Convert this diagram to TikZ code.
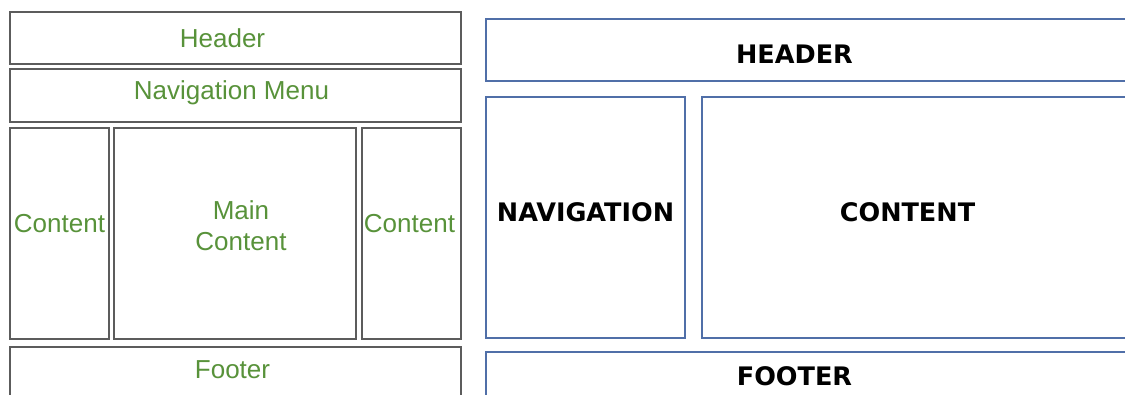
\documentclass[tikz,border=0pt]{standalone}
\usepackage{fontspec}
\setmainfont{Liberation Sans}
\newfontfamily\capsfont{DejaVu Sans}
\usepackage{tikz}
\usetikzlibrary{positioning}
\definecolor{leafgreen}{RGB}{88,146,58}
\definecolor{greyline}{RGB}{92,92,92}
\definecolor{blueline}{RGB}{80,111,168}
\tikzstyle{oldbox} = [rectangle, draw=greyline, line width=2.5pt, outer sep=0pt, inner sep=0pt, text=leafgreen, font=\fontsize{26}{31}\selectfont]
\tikzstyle{oldtag} = [text=leafgreen, font=\fontsize{26}{31}\selectfont, align=center]
\tikzstyle{newbox} = [rectangle, draw=blueline, line width=2.4pt, outer sep=0pt, inner sep=0pt, font=\capsfont\bfseries\fontsize{25.5}{30}\selectfont]
\tikzstyle{newtag} = [font=\capsfont\bfseries\fontsize{25.5}{30}\selectfont]

\begin{document}
\begin{tikzpicture}[x=1pt, y=-1pt]
      \useasboundingbox (0,0) rectangle (1125,394);
      \clip (0,0) rectangle (1125,394);
      % old layout
      \node (hdr) [oldbox, minimum width=451pt, minimum height=52pt, label={[oldtag, xshift=-13pt]center:Header}] at (235.5,38) {};
      \node (menu) [oldbox, minimum width=451pt, minimum height=53pt, below=5pt of hdr, label={[oldtag, xshift=-4pt, yshift=3pt]center:Navigation Menu}] {};
      \node (sideL) [oldbox, minimum width=99pt, minimum height=211pt, below=6pt of menu.south west, anchor=north west, label={[oldtag, yshift=10pt]center:Content}] {};
      \node (mainC) [oldbox, minimum width=242pt, minimum height=211pt, right=5pt of sideL, label={[oldtag, xshift=6pt, yshift=8pt]center:{Main\\Content}}] {};
      \node (sideR) [oldbox, minimum width=99pt, minimum height=211pt, right=6pt of mainC, label={[oldtag, xshift=-2pt, yshift=10pt]center:Content}] {};
      \node (foot) [oldbox, minimum width=451pt, minimum height=70pt, below=8pt of sideL.south west, anchor=north west, label={[oldtag, xshift=-3pt, yshift=12pt]center:Footer}] {};
      % new layout
      \node (rhdr) [newbox, minimum width=649pt, minimum height=62pt, label={[newtag, xshift=-16pt, yshift=-4pt]center:HEADER}] at (810.5,50) {};
      \node (rnav) [newbox, minimum width=199pt, minimum height=241pt, below=16pt of rhdr.south west, anchor=north west, label={[newtag, yshift=5pt]center:NAVIGATION}] {};
      \node (rcont) [newbox, minimum width=433pt, minimum height=241pt, right=17pt of rnav, label={[newtag, xshift=-11pt, yshift=5pt]center:CONTENT}] {};
      \node (rfoot) [newbox, minimum width=649pt, minimum height=70pt, below=14pt of rnav.south west, anchor=north west, label={[newtag, xshift=-16pt, yshift=11pt]center:FOOTER}] {};
    \end{tikzpicture}
\end{document}
